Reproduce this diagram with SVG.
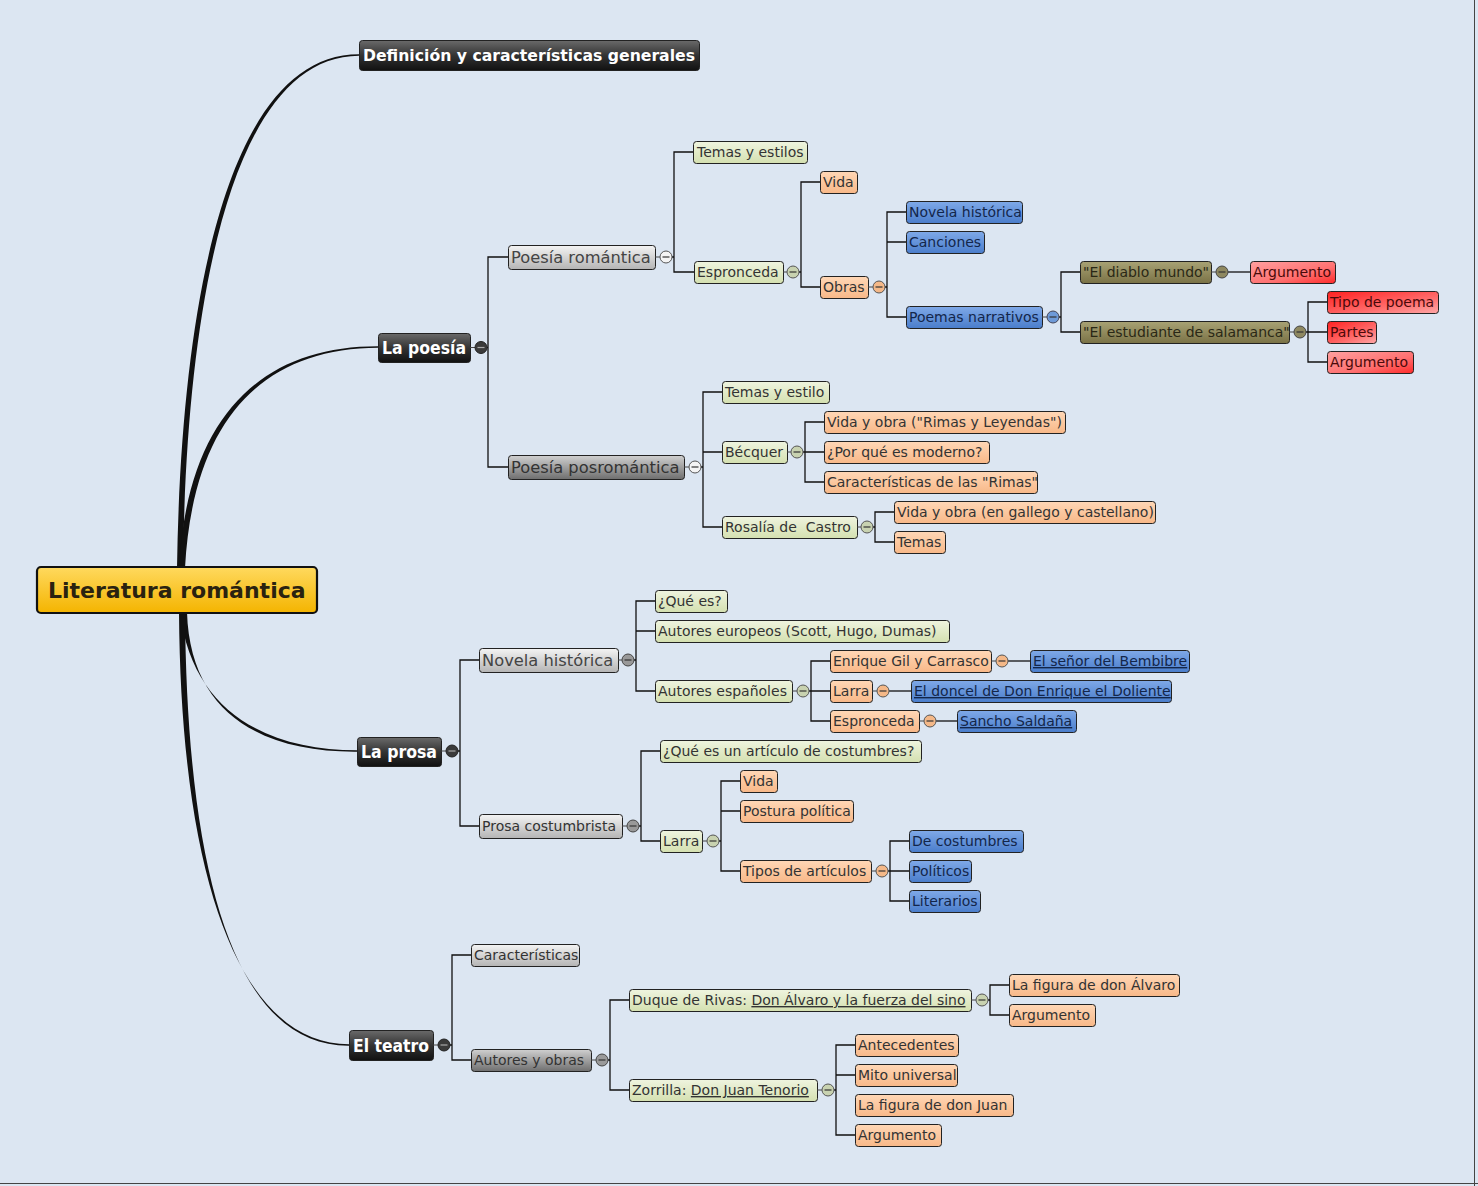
<svg xmlns="http://www.w3.org/2000/svg" width="1478" height="1186" viewBox="0 0 1478 1186">
<defs>
<linearGradient id="gDark" x1="0" y1="0" x2="0" y2="1"><stop offset="0" stop-color="#6a6a6a"/><stop offset="0.5" stop-color="#333"/><stop offset="1" stop-color="#111"/></linearGradient>
<linearGradient id="gRoot" x1="0" y1="0" x2="0" y2="1"><stop offset="0" stop-color="#ffd95e"/><stop offset="1" stop-color="#f4b400"/></linearGradient>
<linearGradient id="gLight" x1="0" y1="0" x2="0" y2="1"><stop offset="0" stop-color="#f4f4f4"/><stop offset="1" stop-color="#b4b4b4"/></linearGradient>
<linearGradient id="gMid" x1="0" y1="0" x2="0" y2="1"><stop offset="0" stop-color="#d0d0d0"/><stop offset="1" stop-color="#6e6e6e"/></linearGradient>
<linearGradient id="gGreen" x1="0" y1="0" x2="0" y2="1"><stop offset="0" stop-color="#eff4df"/><stop offset="1" stop-color="#d4e0b0"/></linearGradient>
<linearGradient id="gOrange" x1="0" y1="0" x2="0" y2="1"><stop offset="0" stop-color="#ffd7b6"/><stop offset="1" stop-color="#f8b888"/></linearGradient>
<linearGradient id="gBlue" x1="0" y1="0" x2="0" y2="1"><stop offset="0" stop-color="#7fa9e8"/><stop offset="1" stop-color="#4a7dcb"/></linearGradient>
<linearGradient id="gOlive" x1="0" y1="0" x2="0" y2="1"><stop offset="0" stop-color="#a8a274"/><stop offset="1" stop-color="#7a7246"/></linearGradient>
<linearGradient id="gRed" x1="0" y1="0" x2="1" y2="1"><stop offset="0" stop-color="#ff2020"/><stop offset="0.6" stop-color="#ff6a6a"/><stop offset="1" stop-color="#ffa8a8"/></linearGradient>
<linearGradient id="gRed2" x1="0" y1="0" x2="1" y2="1"><stop offset="0" stop-color="#ffa0a0"/><stop offset="0.6" stop-color="#ff7070"/><stop offset="1" stop-color="#ff2a2a"/></linearGradient>
</defs>
<style>
.bg{fill:#dce6f2}
.b{stroke:#222;stroke-width:1}
.dark{fill:url(#gDark)}
.light{fill:url(#gLight)}
.mid{fill:url(#gMid)}
.g{fill:url(#gGreen)}
.o{fill:url(#gOrange)}
.bl{fill:url(#gBlue)}
.ol{fill:url(#gOlive)}
.r{fill:url(#gRed)}
.r2{fill:url(#gRed2)}
text{font-family:"DejaVu Sans","Verdana",sans-serif}
.t{font-size:14px;fill:#333}
.tb{font-size:14px;fill:#13264a}
.tr{font-size:14px;fill:#4a0a0a}
.to{font-size:14px;fill:#2a2816}
.tg{font-size:16.3px;fill:#444}
.tg2{font-size:14px;fill:#333}
.tw{font-size:16px;font-weight:bold;fill:#fff}
.tw2{font-size:17px;font-weight:bold;fill:#fff}
.u{text-decoration:underline}
.c{fill:none;stroke:#111;stroke-width:1.3}
.tc{stroke:#444;stroke-width:1}
.m{stroke:#333;stroke-width:1.2}
.cur{fill:#111}
</style>
<rect class="bg" x="0" y="0" width="1478" height="1186"/>
<line x1="1474.5" y1="0" x2="1474.5" y2="1186" stroke="#444" stroke-width="1"/>
<line x1="0" y1="1183.5" x2="1478" y2="1183.5" stroke="#444" stroke-width="1"/>

<g id="connectors">
<path class="cur" d="M177,568 C181,300 228,54.3 359,54.3 L359,55.7 C232,56.3 186,300 183,568 Z"/>
<path class="cur" d="M179,568 C187,420 258,346.3 378,346.3 L378,347.7 C262,348.5 193,420 185,568 Z"/>
<path class="cur" d="M180,612 C192,712 268,750.3 357,750.3 L357,751.7 C264,752.5 190,715 187,612 Z"/>
<path class="cur" d="M179,612 C181,900 248,1044.3 349,1044.3 L349,1045.7 C244,1046.5 187,900 185,612 Z"/>
<path class="c" d="M487,347.5 H488 V257 H508 M488,347.5 V467 H508"/>
<path class="c" d="M672,257 H674 V152 H693 M674,257 V272 H694"/>
<path class="c" d="M799,272 H801 V182 H820 M801,272 V287 H820"/>
<path class="c" d="M885,287 H887 V212 H906 M887,242 H906 M887,287 V317 H906"/>
<path class="c" d="M1059,317 H1061 V272 H1080 M1061,317 V332 H1080"/>
<path class="c" d="M1228,272 H1250"/>
<path class="c" d="M1306,332 H1308 V302 H1327 M1308,332 H1327 M1308,332 V362 H1327"/>
<path class="c" d="M701,467 H703 V392 H722 M703,452 H722 M703,467 V527 H722"/>
<path class="c" d="M803,452 H805 V422 H824 M805,452 H824 M805,452 V482 H824"/>
<path class="c" d="M873,527 H875 V512 H894 M875,527 V542 H894"/>
<path class="c" d="M458,751 H460 V660 H479 M460,751 V826 H479"/>
<path class="c" d="M634,660 H636 V601 H655 M636,631 H655 M636,660 V691 H655"/>
<path class="c" d="M809,691 H811 V661 H830 M811,691 H830 M811,691 V721 H830"/>
<path class="c" d="M1008,661 H1030"/>
<path class="c" d="M889,691 H911"/>
<path class="c" d="M936,721 H957"/>
<path class="c" d="M639,826 H641 V751 H660 M641,826 V841 H660"/>
<path class="c" d="M719,841 H721 V781 H740 M721,811 H740 M721,841 V871 H740"/>
<path class="c" d="M888,871 H890 V841 H909 M890,871 H909 M890,871 V901 H909"/>
<path class="c" d="M450,1045 H452 V955 H471 M452,1045 V1060 H471"/>
<path class="c" d="M608,1060 H610 V1000 H629 M610,1060 V1090 H629"/>
<path class="c" d="M988,1000 H990 V985 H1009 M990,1000 V1015 H1009"/>
<path class="c" d="M834,1090 H836 V1045 H855 M836,1075 H855 M836,1090 V1135 H855"/>
</g>

<g id="n-root"><rect x="37" y="567" width="280" height="46" rx="4" fill="url(#gRoot)" stroke="#111" stroke-width="2.2"/><text x="48" y="598" font-size="22" font-weight="bold" fill="#2a2210">Literatura romántica</text></g>

<g id="n-def"><rect class="b dark" x="359.5" y="40.5" width="340" height="30" rx="3"/><text class="tw" x="363" y="61" textLength="332" lengthAdjust="spacingAndGlyphs">Definición y características generales</text></g>

<g id="n-poesia"><rect class="b dark" x="378.5" y="333.5" width="92" height="29" rx="3"/><text class="tw2" x="382" y="354" textLength="84" lengthAdjust="spacingAndGlyphs">La poesía</text>
<line class="tc" x1="470" y1="347.5" x2="475" y2="347.5"/><circle cx="481" cy="347.5" r="6" fill="#3a3a3a" stroke="#222"/><line x1="477.5" y1="347.5" x2="484.5" y2="347.5" stroke="#aaa" stroke-width="1.2"/></g>

<g id="n-poesia-rom"><rect class="b light" x="508.5" y="245.5" width="147" height="24" rx="3"/><text class="tg" x="511" y="263">Poesía romántica</text>
<line class="tc" x1="655" y1="257" x2="660" y2="257"/><circle cx="666" cy="257" r="6" fill="#f4f4f4" stroke="#555"/><line class="m" x1="662.5" y1="257" x2="669.5" y2="257"/></g>
<g id="n-temas1"><rect class="b g" x="693.5" y="141.5" width="114" height="22" rx="3"/><text class="t" x="697" y="157">Temas y estilos</text></g>
<g id="n-espro1"><rect class="b g" x="694.5" y="261.5" width="89" height="22" rx="3"/><text class="t" x="697" y="277">Espronceda</text>
<line class="tc" x1="783" y1="272" x2="787" y2="272"/><circle cx="793" cy="272" r="6" fill="#c8d2b0" stroke="#555"/><line class="m" x1="789.5" y1="272" x2="796.5" y2="272"/></g>
<g id="n-vida1"><rect class="b o" x="820.5" y="171.5" width="37" height="22" rx="3"/><text class="t" x="823" y="187">Vida</text></g>
<g id="n-obras"><rect class="b o" x="820.5" y="276.5" width="48" height="22" rx="3"/><text class="t" x="823" y="292">Obras</text>
<line class="tc" x1="868" y1="287" x2="873" y2="287"/><circle cx="879" cy="287" r="6" fill="#f4b888" stroke="#555"/><line class="m" x1="875.5" y1="287" x2="882.5" y2="287"/></g>
<g id="n-novhist1"><rect class="b bl" x="906.5" y="201.5" width="116" height="22" rx="3"/><text class="tb" x="909" y="217">Novela histórica</text></g>
<g id="n-canciones"><rect class="b bl" x="906.5" y="231.5" width="78" height="22" rx="3"/><text class="tb" x="909" y="247">Canciones</text></g>
<g id="n-poemas"><rect class="b bl" x="906.5" y="306.5" width="136" height="22" rx="3"/><text class="tb" x="909" y="322">Poemas narrativos</text>
<line class="tc" x1="1042" y1="317" x2="1047" y2="317"/><circle cx="1053" cy="317" r="6" fill="#6e9ad8" stroke="#445"/><line class="m" x1="1049.5" y1="317" x2="1056.5" y2="317"/></g>
<g id="n-diablo"><rect class="b ol" x="1080.5" y="261.5" width="131" height="22" rx="3"/><text class="to" x="1083" y="277">"El diablo mundo"</text>
<line class="tc" x1="1211" y1="272" x2="1216" y2="272"/><circle cx="1222" cy="272" r="6" fill="#8e8860" stroke="#444"/><line class="m" x1="1218.5" y1="272" x2="1225.5" y2="272"/></g>
<g id="n-arg1"><rect class="b r2" x="1250.5" y="261.5" width="85" height="22" rx="3"/><text class="tr" x="1253" y="277">Argumento</text></g>
<g id="n-estudiante"><rect class="b ol" x="1080.5" y="321.5" width="209" height="22" rx="3"/><text class="to" x="1083" y="337">"El estudiante de salamanca"</text>
<line class="tc" x1="1289" y1="332" x2="1294" y2="332"/><circle cx="1300" cy="332" r="6" fill="#8e8860" stroke="#444"/><line class="m" x1="1296.5" y1="332" x2="1303.5" y2="332"/></g>
<g id="n-tipo"><rect class="b r" x="1327.5" y="291.5" width="111" height="22" rx="3"/><text class="tr" x="1330" y="307">Tipo de poema</text></g>
<g id="n-partes"><rect class="b r" x="1327.5" y="321.5" width="49" height="22" rx="3"/><text class="tr" x="1330" y="337">Partes</text></g>
<g id="n-arg2"><rect class="b r2" x="1327.5" y="351.5" width="86" height="22" rx="3"/><text class="tr" x="1330" y="367">Argumento</text></g>

<g id="n-poesia-pos"><rect class="b mid" x="508.5" y="455.5" width="176" height="24" rx="3"/><text class="tg" x="511" y="473" style="fill:#333">Poesía posromántica</text>
<line class="tc" x1="684" y1="467" x2="689" y2="467"/><circle cx="695" cy="467" r="6" fill="#f4f4f4" stroke="#555"/><line class="m" x1="691.5" y1="467" x2="698.5" y2="467"/></g>
<g id="n-temas2"><rect class="b g" x="722.5" y="381.5" width="107" height="22" rx="3"/><text class="t" x="725" y="397">Temas y estilo</text></g>
<g id="n-becquer"><rect class="b g" x="722.5" y="441.5" width="65" height="22" rx="3"/><text class="t" x="725" y="457">Bécquer</text>
<line class="tc" x1="787" y1="452" x2="791" y2="452"/><circle cx="797" cy="452" r="6" fill="#c8d2b0" stroke="#555"/><line class="m" x1="793.5" y1="452" x2="800.5" y2="452"/></g>
<g id="n-bvida"><rect class="b o" x="824.5" y="411.5" width="241" height="22" rx="3"/><text class="t" x="827" y="427">Vida y obra ("Rimas y Leyendas")</text></g>
<g id="n-bmoderno"><rect class="b o" x="824.5" y="441.5" width="165" height="22" rx="3"/><text class="t" x="827" y="457">¿Por qué es moderno?</text></g>
<g id="n-brimas"><rect class="b o" x="824.5" y="471.5" width="213" height="22" rx="3"/><text class="t" x="827" y="487">Características de las "Rimas"</text></g>
<g id="n-rosalia"><rect class="b g" x="722.5" y="516.5" width="135" height="22" rx="3"/><text class="t" x="725" y="532">Rosalía de&#160; Castro</text>
<line class="tc" x1="857" y1="527" x2="861" y2="527"/><circle cx="867" cy="527" r="6" fill="#c8d2b0" stroke="#555"/><line class="m" x1="863.5" y1="527" x2="870.5" y2="527"/></g>
<g id="n-rvida"><rect class="b o" x="894.5" y="501.5" width="261" height="22" rx="3"/><text class="t" x="897" y="517">Vida y obra (en gallego y castellano)</text></g>
<g id="n-rtemas"><rect class="b o" x="894.5" y="531.5" width="51" height="22" rx="3"/><text class="t" x="897" y="547">Temas</text></g>

<g id="n-prosa"><rect class="b dark" x="357.5" y="737.5" width="84" height="29" rx="3"/><text class="tw2" x="361" y="758" textLength="76" lengthAdjust="spacingAndGlyphs">La prosa</text>
<line class="tc" x1="441" y1="751" x2="446" y2="751"/><circle cx="452" cy="751" r="6" fill="#3a3a3a" stroke="#222"/><line x1="448.5" y1="751" x2="455.5" y2="751" stroke="#aaa" stroke-width="1.2"/></g>
<g id="n-novhist2"><rect class="b light" x="479.5" y="648.5" width="139" height="24" rx="3"/><text class="tg" x="482" y="666">Novela histórica</text>
<line class="tc" x1="618" y1="660" x2="622" y2="660"/><circle cx="628" cy="660" r="6" fill="#999" stroke="#444"/><line class="m" x1="624.5" y1="660" x2="631.5" y2="660"/></g>
<g id="n-quees"><rect class="b g" x="655.5" y="590.5" width="72" height="22" rx="3"/><text class="t" x="658" y="606">¿Qué es?</text></g>
<g id="n-europeos"><rect class="b g" x="655.5" y="620.5" width="294" height="22" rx="3"/><text class="t" x="658" y="636">Autores europeos (Scott, Hugo, Dumas)</text></g>
<g id="n-espanoles"><rect class="b g" x="655.5" y="680.5" width="137" height="22" rx="3"/><text class="t" x="658" y="696">Autores españoles</text>
<line class="tc" x1="792" y1="691" x2="797" y2="691"/><circle cx="803" cy="691" r="6" fill="#c8d2b0" stroke="#555"/><line class="m" x1="799.5" y1="691" x2="806.5" y2="691"/></g>
<g id="n-enrique"><rect class="b o" x="830.5" y="650.5" width="161" height="22" rx="3"/><text class="t" x="833" y="666">Enrique Gil y Carrasco</text>
<line class="tc" x1="991" y1="661" x2="996" y2="661"/><circle cx="1002" cy="661" r="6" fill="#f4b888" stroke="#555"/><line class="m" x1="998.5" y1="661" x2="1005.5" y2="661"/></g>
<g id="n-bembibre"><rect class="b bl" x="1030.5" y="650.5" width="159" height="22" rx="3"/><text class="tb u" x="1033" y="666">El señor del Bembibre</text></g>
<g id="n-larra1"><rect class="b o" x="830.5" y="680.5" width="42" height="22" rx="3"/><text class="t" x="833" y="696">Larra</text>
<line class="tc" x1="872" y1="691" x2="877" y2="691"/><circle cx="883" cy="691" r="6" fill="#f4b888" stroke="#555"/><line class="m" x1="879.5" y1="691" x2="886.5" y2="691"/></g>
<g id="n-doncel"><rect class="b bl" x="911.5" y="680.5" width="260" height="22" rx="3"/><text class="tb u" x="914" y="696">El doncel de Don Enrique el Doliente</text></g>
<g id="n-espro2"><rect class="b o" x="830.5" y="710.5" width="89" height="22" rx="3"/><text class="t" x="833" y="726">Espronceda</text>
<line class="tc" x1="919" y1="721" x2="924" y2="721"/><circle cx="930" cy="721" r="6" fill="#f4b888" stroke="#555"/><line class="m" x1="926.5" y1="721" x2="933.5" y2="721"/></g>
<g id="n-sancho"><rect class="b bl" x="957.5" y="710.5" width="119" height="22" rx="3"/><text class="tb u" x="960" y="726">Sancho Saldaña</text></g>
<g id="n-costumbrista"><rect class="b light" x="479.5" y="814.5" width="143" height="24" rx="3"/><text class="tg2" x="482" y="831">Prosa costumbrista</text>
<line class="tc" x1="622" y1="826" x2="627" y2="826"/><circle cx="633" cy="826" r="6" fill="#999" stroke="#444"/><line class="m" x1="629.5" y1="826" x2="636.5" y2="826"/></g>
<g id="n-articulo"><rect class="b g" x="660.5" y="740.5" width="261" height="22" rx="3"/><text class="t" x="663" y="756">¿Qué es un artículo de costumbres?</text></g>
<g id="n-larra2"><rect class="b g" x="660.5" y="830.5" width="42" height="22" rx="3"/><text class="t" x="663" y="846">Larra</text>
<line class="tc" x1="702" y1="841" x2="707" y2="841"/><circle cx="713" cy="841" r="6" fill="#c8d2b0" stroke="#555"/><line class="m" x1="709.5" y1="841" x2="716.5" y2="841"/></g>
<g id="n-vida2"><rect class="b o" x="740.5" y="770.5" width="37" height="22" rx="3"/><text class="t" x="743" y="786">Vida</text></g>
<g id="n-postura"><rect class="b o" x="740.5" y="800.5" width="113" height="22" rx="3"/><text class="t" x="743" y="816">Postura política</text></g>
<g id="n-tipos"><rect class="b o" x="740.5" y="860.5" width="131" height="22" rx="3"/><text class="t" x="743" y="876">Tipos de artículos</text>
<line class="tc" x1="871" y1="871" x2="876" y2="871"/><circle cx="882" cy="871" r="6" fill="#f4b888" stroke="#555"/><line class="m" x1="878.5" y1="871" x2="885.5" y2="871"/></g>
<g id="n-decost"><rect class="b bl" x="909.5" y="830.5" width="114" height="22" rx="3"/><text class="tb" x="912" y="846">De costumbres</text></g>
<g id="n-politicos"><rect class="b bl" x="909.5" y="860.5" width="62" height="22" rx="3"/><text class="tb" x="912" y="876">Políticos</text></g>
<g id="n-literarios"><rect class="b bl" x="909.5" y="890.5" width="71" height="22" rx="3"/><text class="tb" x="912" y="906">Literarios</text></g>

<g id="n-teatro"><rect class="b dark" x="349.5" y="1030.5" width="84" height="30" rx="3"/><text class="tw2" x="353" y="1052" textLength="76" lengthAdjust="spacingAndGlyphs">El teatro</text>
<line class="tc" x1="433" y1="1045" x2="438" y2="1045"/><circle cx="444" cy="1045" r="6" fill="#3a3a3a" stroke="#222"/><line x1="440.5" y1="1045" x2="447.5" y2="1045" stroke="#aaa" stroke-width="1.2"/></g>
<g id="n-caract"><rect class="b light" x="471.5" y="944.5" width="108" height="22" rx="3"/><text class="tg2" x="474" y="960">Características</text></g>
<g id="n-autores"><rect class="b mid" x="471.5" y="1049.5" width="120" height="22" rx="3"/><text class="tg2" x="474" y="1065">Autores y obras</text>
<line class="tc" x1="591" y1="1060" x2="596" y2="1060"/><circle cx="602" cy="1060" r="6" fill="#999" stroke="#444"/><line class="m" x1="598.5" y1="1060" x2="605.5" y2="1060"/></g>
<g id="n-duque"><rect class="b g" x="629.5" y="989.5" width="342" height="22" rx="3"/><text class="t" x="632" y="1005">Duque de Rivas: <tspan class="u">Don Álvaro y la fuerza del sino</tspan></text>
<line class="tc" x1="971" y1="1000" x2="976" y2="1000"/><circle cx="982" cy="1000" r="6" fill="#c8d2b0" stroke="#555"/><line class="m" x1="978.5" y1="1000" x2="985.5" y2="1000"/></g>
<g id="n-alvaro"><rect class="b o" x="1009.5" y="974.5" width="170" height="22" rx="3"/><text class="t" x="1012" y="990">La figura de don Álvaro</text></g>
<g id="n-arg3"><rect class="b o" x="1009.5" y="1004.5" width="86" height="22" rx="3"/><text class="t" x="1012" y="1020">Argumento</text></g>
<g id="n-zorrilla"><rect class="b g" x="629.5" y="1079.5" width="188" height="22" rx="3"/><text class="t" x="632" y="1095">Zorrilla: <tspan class="u">Don Juan Tenorio</tspan></text>
<line class="tc" x1="817" y1="1090" x2="822" y2="1090"/><circle cx="828" cy="1090" r="6" fill="#c8d2b0" stroke="#555"/><line class="m" x1="824.5" y1="1090" x2="831.5" y2="1090"/></g>
<g id="n-antec"><rect class="b o" x="855.5" y="1034.5" width="103" height="22" rx="3"/><text class="t" x="858" y="1050">Antecedentes</text></g>
<g id="n-mito"><rect class="b o" x="855.5" y="1064.5" width="102" height="22" rx="3"/><text class="t" x="858" y="1080">Mito universal</text></g>
<g id="n-juan"><rect class="b o" x="855.5" y="1094.5" width="158" height="22" rx="3"/><text class="t" x="858" y="1110">La figura de don Juan</text></g>
<g id="n-arg4"><rect class="b o" x="855.5" y="1124.5" width="86" height="22" rx="3"/><text class="t" x="858" y="1140">Argumento</text></g>
</svg>
